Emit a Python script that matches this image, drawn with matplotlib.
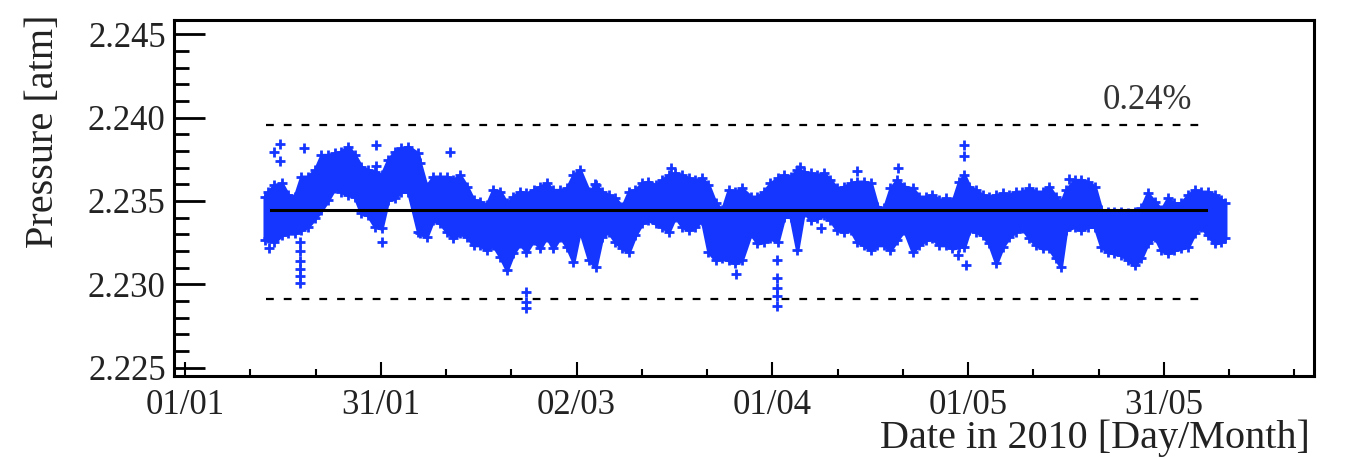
import numpy as np
import matplotlib
matplotlib.use("Agg")
import matplotlib.pyplot as plt
from matplotlib.ticker import MultipleLocator

plt.rcParams['font.family'] = ['Liberation Serif', 'DejaVu Serif']

# days since 01/01/2010, envelope of the pressure readings (atm)
days = [12.2, 12.7, 13.7, 14.8, 15.8, 16.8, 17.8, 18.8, 19.9, 20.9, 21.9, 22.9, 23.9, 25.0,
        26.0, 27.0, 28.0, 29.1, 30.1, 31.1, 32.1, 33.1, 34.2, 35.7,
        36.0, 37.0, 38.0, 39.1, 40.1, 41.1, 42.1, 43.2, 44.2, 45.2, 46.2, 47.2, 48.3, 49.3,
        50.3, 51.3, 52.3, 53.4, 54.4, 55.4, 56.4, 57.5, 58.5, 59.5, 60.5,
        61.9, 62.9, 63.9, 64.9, 65.9, 67.0, 68.0, 69.0, 70.0, 71.0, 72.1, 73.1, 74.1,
        75.1, 76.2, 77.2, 78.2, 79.2, 80.2, 81.3, 82.3, 83.3, 84.3, 85.3,
        86.7, 87.7, 88.7, 89.7, 90.8, 91.8, 92.8, 93.8, 94.8, 95.9, 96.9, 97.9, 98.9,
        99.9, 101.0, 102.0, 103.0, 104.0, 105.1, 106.1, 107.1, 108.1, 109.1, 110.2,
        111.5, 112.5, 113.5, 114.5, 115.6, 116.6, 117.6, 118.6, 119.4, 120.2, 121.2, 122.2,
        123.2, 124.3, 125.3, 126.3, 127.3, 128.3, 129.4, 130.4, 131.4, 132.4, 133.4, 134.2, 135.0,
        136.3, 137.3, 138.3, 139.4, 140.4, 141.4, 142.4, 143.5, 144.5, 145.5, 146.5, 147.5,
        148.6, 149.6, 150.6, 151.6, 152.6, 153.7, 154.7, 155.7, 156.7, 157.8, 158.8, 159.4]

p_high = [2.23525, 2.23555, 2.23595, 2.23605, 2.23535, 2.23525, 2.23645, 2.23645, 2.23685,
          2.23775, 2.23775, 2.23785, 2.23795, 2.23825, 2.23775, 2.23705, 2.23685, 2.23675,
          2.23655, 2.23745, 2.23795, 2.23815, 2.23825, 2.23785,
          2.23725, 2.23585, 2.23645, 2.23645, 2.23645, 2.23625, 2.23655, 2.23585, 2.23505,
          2.23495, 2.23475, 2.23565, 2.23555, 2.23485, 2.23525, 2.23555, 2.23545, 2.23565,
          2.23585, 2.23605, 2.23565, 2.23565, 2.23575, 2.23655, 2.23685,
          2.23555, 2.23595, 2.23555, 2.23535, 2.23515, 2.23465, 2.23555, 2.23565, 2.23605,
          2.23615, 2.23595, 2.23625, 2.23655, 2.23665, 2.23655, 2.23635, 2.23625, 2.23635,
          2.23595, 2.23485, 2.23445, 2.23565, 2.23555, 2.23575,
          2.23525, 2.23525, 2.23555, 2.23605, 2.23635, 2.23655, 2.23645, 2.23685, 2.23675,
          2.23665, 2.23655, 2.23665, 2.23625, 2.23575, 2.23585, 2.23605, 2.23615, 2.23615,
          2.23605, 2.23465, 2.23455, 2.23575, 2.23625, 2.23585,
          2.23575, 2.23525, 2.23525, 2.23535, 2.23505, 2.23515, 2.23495, 2.23615, 2.23655,
          2.23585, 2.23565, 2.23535, 2.23525, 2.23535, 2.23545, 2.23535, 2.23555, 2.23555,
          2.23575, 2.23555, 2.23555, 2.23585, 2.23525, 2.23485, 2.23565,
          2.23625, 2.23625, 2.23615, 2.23585, 2.23445, 2.23435, 2.23435, 2.23435, 2.23425,
          2.23435, 2.23455, 2.23545, 2.23495, 2.23445, 2.23515, 2.23485, 2.23485, 2.23535,
          2.23565, 2.23555, 2.23555, 2.23535, 2.23505, 2.23485]

p_low = [2.23265, 2.23275, 2.23255, 2.23295, 2.23305, 2.23305, 2.23325, 2.23345, 2.23395,
         2.23445, 2.23505, 2.23575, 2.23555, 2.23535, 2.23525, 2.23425, 2.23415, 2.23345,
         2.23335, 2.23505, 2.23515, 2.23555, 2.23555, 2.23315,
         2.23305, 2.23285, 2.23385, 2.23365, 2.23315, 2.23275, 2.23305, 2.23285, 2.23235,
         2.23235, 2.23205, 2.23235, 2.23165, 2.23085, 2.23185, 2.23245, 2.23195, 2.23265,
         2.23215, 2.23285, 2.23215, 2.23285, 2.23225, 2.23135, 2.23325,
         2.23145, 2.23105, 2.23285, 2.23315, 2.23255, 2.23215, 2.23195, 2.23295, 2.23365,
         2.23385, 2.23365, 2.23345, 2.23315, 2.23405, 2.23345, 2.23325, 2.23345, 2.23385,
         2.23195, 2.23145, 2.23155, 2.23145, 2.23125, 2.23145,
         2.23305, 2.23245, 2.23255, 2.23275, 2.23255, 2.23405, 2.23405, 2.23205, 2.23435,
         2.23385, 2.23395, 2.23415, 2.23385, 2.23325, 2.23315, 2.23325, 2.23255, 2.23235,
         2.23205, 2.23235, 2.23235, 2.23205, 2.23265, 2.23325,
         2.23195, 2.23235, 2.23265, 2.23275, 2.23235, 2.23235, 2.23215, 2.23225, 2.23225,
         2.23325, 2.23315, 2.23295, 2.23245, 2.23125, 2.23225, 2.23285, 2.23315, 2.23335,
         2.23275, 2.23235, 2.23215, 2.23215, 2.23155, 2.23105, 2.23325,
         2.23345, 2.23325, 2.23345, 2.23345, 2.23225, 2.23195, 2.23185, 2.23175, 2.23145,
         2.23115, 2.23155, 2.23245, 2.23285, 2.23205, 2.23185, 2.23205, 2.23215, 2.23225,
         2.23305, 2.23345, 2.23295, 2.23245, 2.23255, 2.23275]

# isolated readings outside the main band
out_days = [13.6, 14.5, 14.5, 18.2, 12.9, 17.6, 17.6, 17.6, 17.6, 17.6, 17.6,
            29.3, 29.3, 30.1, 40.6, 52.3, 52.3, 52.3, 62.8, 74.5, 84.4, 94.2, 103.0,
            109.2, 97.4, 90.7, 90.7, 90.7, 90.7, 90.7, 119.3, 119.3, 118.4, 119.7, 135.5]
out_p = [2.23795, 2.2384, 2.2374, 2.23819, 2.23219, 2.23255, 2.23201, 2.23141, 2.23091,
         2.23049, 2.23005, 2.23835, 2.23709, 2.23255, 2.23795, 2.22951, 2.22895, 2.22855,
         2.23601, 2.237, 2.23061, 2.23705, 2.23681, 2.23699, 2.23339, 2.23145, 2.2304,
         2.2298, 2.2293, 2.2287, 2.23835, 2.23771, 2.23175, 2.23115, 2.23629]

mean_p = 2.23445
band_hi = 2.23953
band_lo = 2.22909
line_start, band_start, line_end = 13.1, 12.4, 156.4

major_days = [0, 30, 60, 90, 120, 150]
major_labels = ["01/01", "31/01", "02/03", "01/04", "01/05", "31/05"]

blue = "#1536ff"

fig = plt.figure(figsize=(13.45, 4.57), dpi=100)
ax = fig.add_axes([174 / 1345, 1 - 376 / 457, (1314 - 174) / 1345, (376 - 20) / 457])

ax.fill_between(days, p_low, p_high, color=blue, lw=2.5, edgecolor=blue, zorder=2)
ax.plot(days, p_high, '+', color=blue, ms=7, mew=2, zorder=2)
ax.plot(days, p_low, '+', color=blue, ms=7, mew=2, zorder=2)
ax.plot(out_days, out_p, '+', color=blue, ms=7, mew=2, zorder=2)

ax.plot([line_start, line_end], [mean_p, mean_p], color='black', lw=2.2, zorder=3)
for yv in (band_hi, band_lo):
    ax.plot([band_start, line_end], [yv, yv], color='black', lw=1.6,
            dashes=(3.5, 4.5), zorder=3)

ax.text(140.6, 2.2405, "0.24%", fontsize=25, color='#333333')

ax.set_xlim(-1.7, 173.0)
ax.set_ylim(2.2245, 2.24585)

ax.set_xticks(major_days)
ax.set_xticklabels(major_labels)
ax.xaxis.set_minor_locator(MultipleLocator(10))
ax.yaxis.set_major_locator(MultipleLocator(0.005))
ax.yaxis.set_minor_locator(MultipleLocator(0.001))
ax.yaxis.set_major_formatter(matplotlib.ticker.FormatStrFormatter('%.3f'))

ax.tick_params(axis='both', which='both', direction='in', top=False, right=False,
               colors='black', labelcolor='#222222', labelsize=25)
ax.tick_params(axis='y', which='major', length=22, width=2, pad=6)
ax.tick_params(axis='y', which='minor', length=11, width=2)
ax.tick_params(axis='x', which='major', length=10, width=1.5, pad=9)
ax.tick_params(axis='x', which='minor', length=5, width=1.5)
for s in ax.spines.values():
    s.set_linewidth(2.2)

fig.text(1310 / 1345, 1 - 448 / 457, "Date in 2010 [Day/Month]", ha='right',
         va='baseline', fontsize=29, color='#222222')
fig.text(44 / 1345, 1 - 14 / 457, "Pressure [atm]", ha='center', va='top',
         rotation=90, fontsize=29, color='#222222')

fig.savefig("out.png", dpi=100)
